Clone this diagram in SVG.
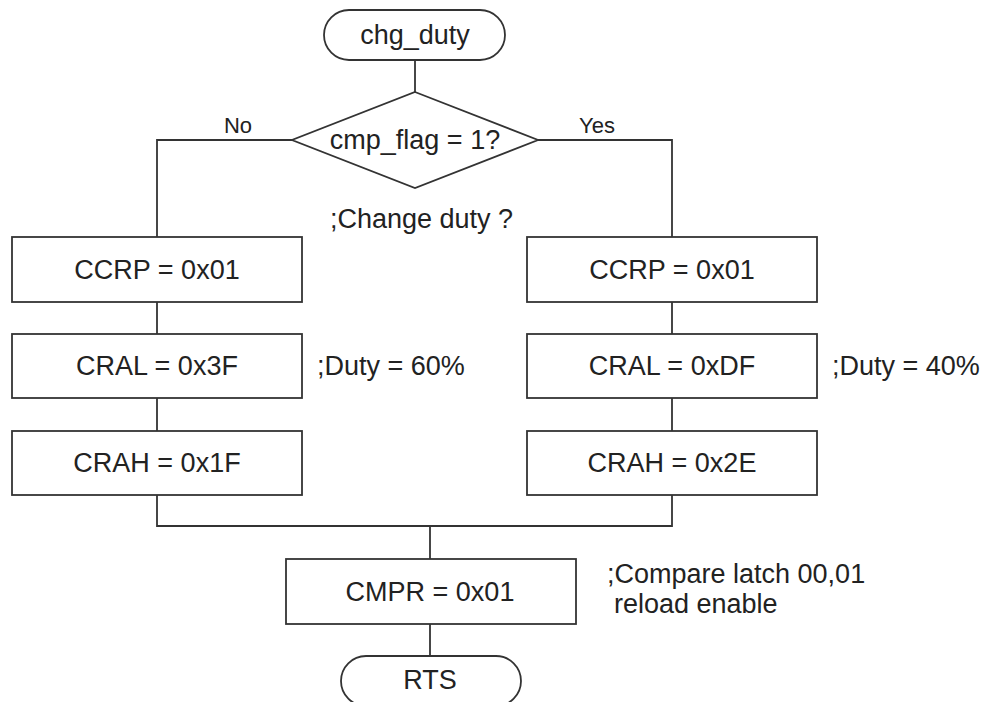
<svg xmlns="http://www.w3.org/2000/svg" width="983" height="702" viewBox="0 0 983 702">
<style>
.s{fill:#fff;stroke:#333;stroke-width:1.8}
.c{fill:none;stroke:#333;stroke-width:1.8}
text{font-family:"Liberation Sans",Arial,sans-serif;font-size:27px;fill:#222}
.m{text-anchor:middle}
.l{font-size:22px}
</style>
<rect width="983" height="702" fill="#fff"/>
<g id="connectors">
<path class="c" d="M415 60V92"/>
<path class="c" d="M292 140H157V237"/>
<path class="c" d="M538 140H672V237"/>
<path class="c" d="M157 302V334M157 398V431M157 495V526H672V495"/>
<path class="c" d="M672 302V334M672 398V431"/>
<path class="c" d="M430 526V559M430 624V656"/>
</g>
<g id="start"><rect class="s" x="324" y="10" width="181" height="50" rx="25"/><text class="m" x="415" y="44">chg_duty</text></g>
<g id="decision"><path class="s" d="M415 92L538 140L415 188L292 140Z"/><text class="m" x="415" y="149">cmp_flag = 1?</text>
<text class="l" x="238" y="133" text-anchor="middle">No</text><text class="l" x="597" y="133" text-anchor="middle">Yes</text></g>
<g id="note1"><text x="330" y="228">;Change duty ?</text></g>
<g id="l1"><rect class="s" x="12" y="237" width="290" height="65"/><text class="m" x="157" y="279">CCRP = 0x01</text></g>
<g id="l2"><rect class="s" x="12" y="334" width="290" height="64"/><text class="m" x="157" y="375">CRAL = 0x3F</text></g>
<g id="l3"><rect class="s" x="12" y="431" width="290" height="64"/><text class="m" x="157" y="472">CRAH = 0x1F</text></g>
<g id="note2"><text x="317" y="375">;Duty = 60%</text></g>
<g id="r1"><rect class="s" x="527" y="237" width="290" height="65"/><text class="m" x="672" y="279">CCRP = 0x01</text></g>
<g id="r2"><rect class="s" x="527" y="334" width="290" height="64"/><text class="m" x="672" y="375">CRAL = 0xDF</text></g>
<g id="r3"><rect class="s" x="527" y="431" width="290" height="64"/><text class="m" x="672" y="472">CRAH = 0x2E</text></g>
<g id="note3"><text x="832" y="375">;Duty = 40%</text></g>
<g id="cmpr"><rect class="s" x="286" y="559" width="290" height="65"/><text class="m" x="430" y="601">CMPR = 0x01</text></g>
<g id="note4"><text x="607" y="583">;Compare latch 00,01</text><text x="614" y="613">reload enable</text></g>
<g id="end"><rect class="s" x="341" y="656" width="180" height="50" rx="25"/><text class="m" x="430" y="689">RTS</text></g>
</svg>
